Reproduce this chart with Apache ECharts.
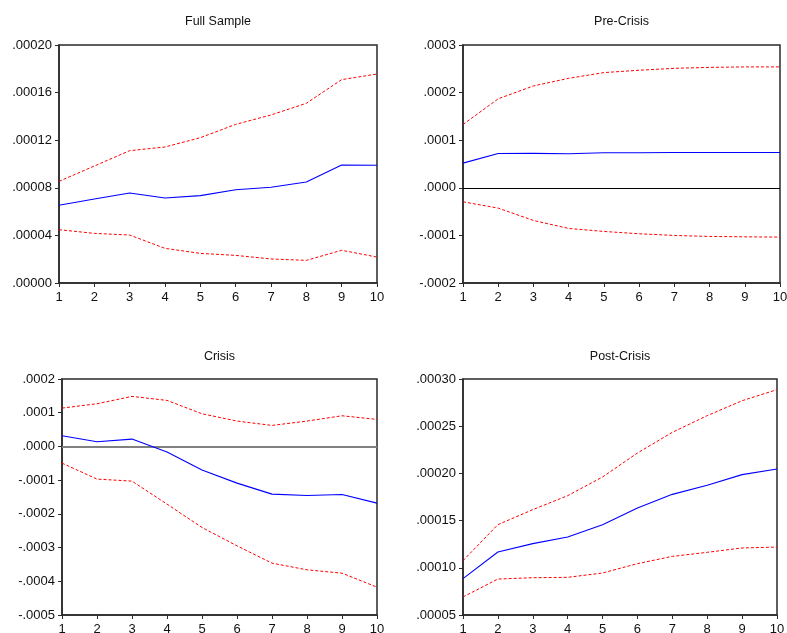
<!DOCTYPE html>
<html>
<head>
<meta charset="utf-8">
<script src="https://cdn.jsdelivr.net/npm/echarts@6/dist/echarts.min.js"></script>
<style>
  html, body { margin: 0; padding: 0; background: #fff; }
  #chart { width: 787px; height: 633px; }
</style>
</head>
<body>
<div id="chart"></div>
<script>
// Impulse responses over a 10-period horizon with ±2 S.E. bands
const periods = ['1', '2', '3', '4', '5', '6', '7', '8', '9', '10'];

const panelTitles = ['Full Sample', 'Pre-Crisis', 'Crisis', 'Post-Crisis'];

// Full Sample
const fullResponse = [0.0000653, 0.0000706, 0.0000756, 0.0000714, 0.0000734, 0.0000784, 0.0000804, 0.0000849, 0.0000992, 0.0000989];
const fullUpper    = [0.0000854, 0.0000983, 0.0001112, 0.0001143, 0.0001221, 0.0001333, 0.0001412, 0.0001510, 0.0001709, 0.0001756];
const fullLower    = [0.0000448, 0.0000417, 0.0000403, 0.0000291, 0.0000249, 0.0000232, 0.0000202, 0.0000190, 0.0000275, 0.0000218];

// Pre-Crisis
const preResponse = [0.0000518, 0.0000721, 0.0000724, 0.0000714, 0.0000735, 0.0000735, 0.0000742, 0.0000742, 0.0000742, 0.0000742];
const preUpper    = [0.000133, 0.000187, 0.000214, 0.000230, 0.000242, 0.000247, 0.000251, 0.000253, 0.000254, 0.000254];
const preLower    = [-0.0000294, -0.0000427, -0.0000686, -0.0000854, -0.0000917, -0.0000966, -0.0001001, -0.0001022, -0.0001030, -0.0001036];

// Crisis
const crisisResponse = [0.0000317, 0.0000138, 0.0000218, -0.0000168, -0.0000702, -0.0001088, -0.0001414, -0.0001454, -0.0001424, -0.0001682];
const crisisUpper    = [0.0001137, 0.0001266, 0.0001484, 0.0001365, 0.0000969, 0.0000752, 0.0000623, 0.0000752, 0.0000910, 0.0000801];
const crisisLower    = [-0.0000495, -0.0000969, -0.0001029, -0.0001711, -0.0002404, -0.0002948, -0.0003462, -0.0003660, -0.0003759, -0.0004174];

// Post-Crisis
const postResponse = [0.0000885, 0.0001167, 0.0001256, 0.0001326, 0.0001457, 0.0001633, 0.0001778, 0.0001874, 0.0001987, 0.0002047];
const postUpper    = [0.0001076, 0.0001457, 0.0001616, 0.0001764, 0.0001962, 0.0002216, 0.0002435, 0.0002612, 0.0002770, 0.0002887];
const postLower    = [0.0000691, 0.0000881, 0.0000895, 0.0000899, 0.0000945, 0.0001044, 0.0001121, 0.0001164, 0.0001210, 0.0001220];

// Y-axis scales per panel: [min, max, interval, decimals]
const yScales = [
  [0, 0.0002, 0.00004, 5],
  [-0.0002, 0.0003, 0.0001, 4],
  [-0.0005, 0.0002, 0.0001, 4],
  [0.00005, 0.0003, 0.00005, 5]
];

const panelData = [
  [fullResponse, fullUpper, fullLower],
  [preResponse, preUpper, preLower],
  [crisisResponse, crisisUpper, crisisLower],
  [postResponse, postUpper, postLower]
];

// zero reference line style per panel (null = none)
const zeroLines = [null, { color: '#000', width: 1 }, { color: '#808080', width: 2 }, null];

const grids = [
  { left: 59, top: 45, width: 318, height: 238 },
  { left: 463, top: 45, width: 317, height: 238 },
  { left: 62, top: 379, width: 315, height: 236 },
  { left: 463, top: 379, width: 314, height: 236 }
];

const FONT = '"Liberation Sans", Arial, sans-serif';
const FRAME = '#2a2a2a';

function fmt(v, d) {
  const s = Math.abs(v).toFixed(d).replace(/^0/, '');
  return (v < -1e-12 ? '-' : '') + s;
}

const option = {
  animation: false,
  backgroundColor: '#fff',
  title: grids.map((g, i) => ({
    text: panelTitles[i],
    left: g.left + g.width / 2,
    textAlign: 'center',
    top: i < 2 ? 15 : 350,
    padding: 0,
    textStyle: { fontFamily: FONT, fontSize: 12.5, fontWeight: 'normal', color: '#111' }
  })),
  grid: grids.map(g => Object.assign({
    show: true, borderColor: FRAME, borderWidth: 1.5, backgroundColor: 'transparent',
    containLabel: false, outerBoundsMode: 'none'
  }, g)),
  xAxis: grids.map((g, i) => ({
    type: 'category',
    gridIndex: i,
    data: periods,
    boundaryGap: false,
    axisLine: { onZero: false, lineStyle: { color: FRAME, width: 1.5 } },
    axisTick: { show: true, length: 4, lineStyle: { color: FRAME, width: 1 } },
    axisLabel: { margin: 8, fontFamily: FONT, fontSize: 13, color: '#111', interval: 0 },
    splitLine: { show: false }
  })),
  yAxis: yScales.map((s, i) => ({
    type: 'value',
    gridIndex: i,
    min: s[0], max: s[1], interval: s[2],
    axisLine: { show: true, onZero: false, lineStyle: { color: FRAME, width: 1.5 } },
    axisTick: { show: true, length: 4, lineStyle: { color: FRAME, width: 1 } },
    axisLabel: { margin: 7, fontFamily: FONT, fontSize: 13, color: '#111', formatter: v => fmt(v, s[3]) },
    splitLine: { show: false }
  })),
  series: []
};

panelData.forEach((d, i) => {
  const [resp, up, lo] = d;
  const base = { type: 'line', xAxisIndex: i, yAxisIndex: i, symbol: 'none', silent: true };
  const resSeries = Object.assign({}, base, {
    name: panelTitles[i] + ' response',
    data: resp,
    z: 4,
    lineStyle: { color: '#0000ff', width: 1.1 }
  });
  if (zeroLines[i]) {
    resSeries.markLine = {
      silent: true,
      symbol: 'none',
      label: { show: false },
      data: [{ yAxis: 0 }],
      lineStyle: { type: 'solid', color: zeroLines[i].color, width: zeroLines[i].width },
      z: 2
    };
  }
  option.series.push(resSeries);
  [up, lo].forEach((band, k) => {
    option.series.push(Object.assign({}, base, {
      name: panelTitles[i] + (k === 0 ? ' upper' : ' lower'),
      data: band,
      z: 3,
      lineStyle: { color: '#ff0000', width: 1, type: [3, 2] }
    }));
  });
});

const chart = echarts.init(document.getElementById('chart'), null, { renderer: 'canvas' });
chart.setOption(option);
</script>
</body>
</html>
